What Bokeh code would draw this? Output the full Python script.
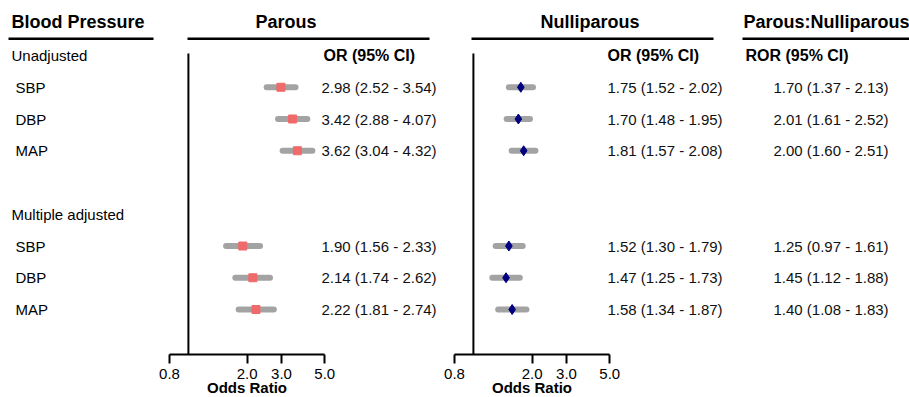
import math
from bokeh.plotting import figure
from bokeh.models import Range1d, LogScale, LogAxis, FixedTicker, PrintfTickFormatter, ColumnDataSource
from bokeh.core.properties import value
from bokeh.embed import file_html
from bokeh.resources import INLINE

# ---------------- data ----------------
groups = ["Unadjusted", "Multiple adjusted"]
measures = ["SBP", "DBP", "MAP"]
parous_or = [2.98, 3.42, 3.62, 1.90, 2.14, 2.22]
parous_lo = [2.52, 2.88, 3.04, 1.56, 1.74, 1.81]
parous_hi = [3.54, 4.07, 4.32, 2.33, 2.62, 2.74]
nulli_or = [1.75, 1.70, 1.81, 1.52, 1.47, 1.58]
nulli_lo = [1.52, 1.48, 1.57, 1.30, 1.25, 1.34]
nulli_hi = [2.02, 1.95, 2.08, 1.79, 1.73, 1.87]
ror = [1.70, 2.01, 2.00, 1.25, 1.45, 1.40]
ror_lo = [1.37, 1.61, 1.60, 0.97, 1.12, 1.08]
ror_hi = [2.13, 2.52, 2.51, 1.61, 1.88, 1.83]
axis_ticks = [0.8, 2.0, 3.0, 5.0]
headers = ["Blood Pressure", "Parous", "Nulliparous", "Parous:Nulliparous"]
subheaders = ["OR (95% CI)", "OR (95% CI)", "ROR (95% CI)"]

# ---------------- layout ----------------
FONT = "Liberation Sans"
W, H = 909, 397
X0, X1 = 0, W              # page-pixel x range
ROW_PX = 31.75
ROW1_Y = 55.0              # page y of row 1
def row_of(y):
    return 1 + (y - ROW1_Y) / ROW_PX
Y_TOP, Y_BOT = row_of(0), row_of(H)

PX_PER_LN = 84.72
def log_range(px_at_08):
    lo = 0.8 * math.exp(-(px_at_08 - X0) / PX_PER_LN)
    hi = 0.8 * math.exp((X1 - px_at_08) / PX_PER_LN)
    return Range1d(lo, hi)

p = figure(width=W, height=H, x_range=Range1d(X0, X1), y_range=Range1d(Y_BOT, Y_TOP),
           output_backend="svg", toolbar_location=None, min_border=0,
           x_axis_location=None, y_axis_location=None)
p.extra_x_ranges = {"parous": log_range(169.0), "nulli": log_range(454.0)}
p.extra_x_scales = {"parous": LogScale(), "nulli": LogScale()}
p.grid.visible = False
p.outline_line_color = None
p.background_fill_color = "white"

data_rows = [2, 3, 4, 7, 8, 9]
group_rows = [1, 6]

def fmt(o, l, h):
    return [f"{a:.2f} ({b:.2f} - {c:.2f})" for a, b, c in zip(o, l, h)]

# headers
hdr_y = row_of(21.5)
p.text(x=[11, 255, 540, 743], y=[hdr_y] * 4, text=headers, text_font=value(FONT),
       text_font_size="18px", text_font_style="bold", text_baseline="middle", text_color="black")
line_y = row_of(38.3)
p.segment(x0=[8, 187, 471, 742], x1=[153, 429, 713, 909], y0=[line_y] * 4, y1=[line_y] * 4,
          line_color="black", line_width=2.5)
p.text(x=[323, 607, 745], y=[1] * 3, text=subheaders, text_font=value(FONT),
       text_font_size="16px", text_font_style="bold", text_baseline="middle", text_color="black")

# row labels
p.text(x=[11] * len(groups), y=group_rows, text=groups, text_font=value(FONT),
       text_font_size="15px", text_baseline="middle", text_color="black")
p.text(x=[15] * 6, y=data_rows, text=measures * 2, text_font=value(FONT),
       text_font_size="15px", text_baseline="middle", text_color="black")

# value columns
for xx, txt in [(321, fmt(parous_or, parous_lo, parous_hi)),
                (607, fmt(nulli_or, nulli_lo, nulli_hi)),
                (773, fmt(ror, ror_lo, ror_hi))]:
    p.text(x=[xx] * 6, y=data_rows, text=txt, text_font=value(FONT),
           text_font_size="15px", text_baseline="middle", text_color="#111111")

axis_row = row_of(354)
top_row = row_of(53)

# forest panels
for rng, o, l, h, marker, color, size in [
        ("parous", parous_or, parous_lo, parous_hi, "square", "#f06a6a", 8),
        ("nulli", nulli_or, nulli_lo, nulli_hi, "diamond", "#00007f", 10)]:
    src = ColumnDataSource(dict(y=data_rows, o=o, l=l, h=h))
    p.segment(x0="l", x1="h", y0="y", y1="y", source=src, x_range_name=rng,
              line_color="#a3a3a3", line_width=6, line_cap="round")
    p.scatter(x="o", y="y", source=src, x_range_name=rng, marker=marker,
              size=size, fill_color=color, line_color=color)
    p.segment(x0=[1.0], x1=[1.0], y0=[top_row], y1=[axis_row], x_range_name=rng,
              line_color="black", line_width=2)
    ax = LogAxis(x_range_name=rng, ticker=FixedTicker(ticks=axis_ticks),
                 formatter=PrintfTickFormatter(format="%.1f"),
                 bounds=(axis_ticks[0], axis_ticks[-1]), fixed_location=axis_row,
                 axis_label="Odds Ratio")
    ax.axis_line_width = 2
    ax.major_tick_line_width = 2
    ax.major_tick_out = 9
    ax.major_tick_in = 0
    ax.minor_tick_line_color = None
    ax.major_label_standoff = 5
    ax.major_label_text_font = FONT
    ax.major_label_text_font_size = "15px"
    ax.major_label_text_color = "black"
    ax.axis_label_text_font = FONT
    ax.axis_label_text_font_size = "15px"
    ax.axis_label_text_font_style = "bold"
    ax.axis_label_text_color = "black"
    ax.axis_label_standoff = -3
    p.add_layout(ax, "below")

open("out.html", "w").write(file_html(p, INLINE))
